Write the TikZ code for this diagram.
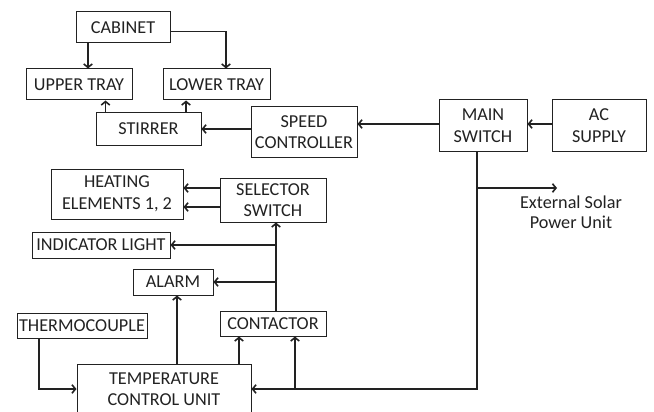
\documentclass[tikz,border=0pt]{standalone}
\usepackage{fontspec}
\setmainfont{Carlito}
\usepackage{tikz}
\usetikzlibrary{arrows.meta,positioning}

\definecolor{ink}{HTML}{222222}

\tikzset{
    block/.style={draw=ink, text=ink, line width=1pt, inner sep=0pt, align=center,
        font=\fontsize{18.2}{21.5}\selectfont},
    link/.style={draw=ink, line width=1.6pt, ->},
    >={Straight Barb[length=3.5pt,width=8.5pt]}
}

\begin{document}
\begin{tikzpicture}[x=1pt, y=-1pt]
    \clip (0,0) rectangle (654,412);
    \fill[white] (0,0) rectangle (654,412);
    % top group
    \node[block, minimum width=94pt, minimum height=31pt] (cabinet) at (123,27.5) {CABINET};
    \node[block, minimum width=106pt, minimum height=31pt] (upper) at (79,84.5) {UPPER TRAY};
    \node[block, minimum width=107pt, minimum height=31pt] (lower) at (216.5,84.5) {LOWER TRAY};
    \node[block, minimum width=105pt, minimum height=32pt] (stirrer) at (148.5,129) {STIRRER};
    \node[block, minimum width=106pt, minimum height=50pt] (speed) at (304,132) {SPEED\\CONTROLLER};
    \node[block, minimum width=88pt, minimum height=51pt] (mainsw) at (483,125.5) {MAIN\\SWITCH};
    \node[block, minimum width=94pt, minimum height=51pt] (acsupply) at (599,125.5) {AC\\SUPPLY};
    % heating group
    \node[block, minimum width=132pt, minimum height=50pt] (heating) at (117,194) {HEATING\\ELEMENTS 1, 2};
    \node[block, minimum width=106pt, minimum height=44pt] (selector) at (273,200) {SELECTOR\\SWITCH};
    \node[block, minimum width=138pt, minimum height=26pt] (indicator) at (101,245) {INDICATOR LIGHT};
    \node[block, minimum width=80pt, minimum height=26pt] (alarm) at (173,282) {ALARM};
    \node[block, minimum width=130pt, minimum height=25pt] (thermo) at (82,325.5) {THERMOCOUPLE};
    \node[block, minimum width=106pt, minimum height=25pt] (contactor) at (273,323.5) {CONTACTOR};
    \node[block, minimum width=174pt, minimum height=50pt] (tcu) at (164,389) {TEMPERATURE\\CONTROL UNIT};
    \node[align=center, text=ink, font=\fontsize{18.2}{19.5}\selectfont] (solar) at (571,212) {External Solar\\Power Unit};

    \coordinate (bus) at ([xshift=3pt]contactor.north);
    \coordinate (feed) at ([xshift=-6pt]mainsw.south);
    \coordinate (tap) at (feed |- 0,188);
    \coordinate (solarend) at (557,188);

    % connectors
    \draw[link] ([xshift=-35pt]cabinet.south) -- ([xshift=-35pt]cabinet.south |- upper.north);
    \draw[link] ([yshift=-4pt]cabinet.east) -| ([xshift=9.5pt]lower.north);
    \draw[link] ([xshift=-43pt]stirrer.north) -- ([xshift=-43pt]stirrer.north |- upper.south);
    \draw[link] ([xshift=37.5pt]stirrer.north) -- ([xshift=37.5pt]stirrer.north |- lower.south);
    \draw[link] (speed.west |- stirrer.east) -- (stirrer.east);
    \draw[link] ([yshift=1.5pt]mainsw.west) -- ([yshift=1.5pt]mainsw.west -| speed.east);
    \draw[link] ([yshift=1.5pt]acsupply.west) -- ([yshift=1.5pt]mainsw.east);
    \draw[link] (tap) -- (solarend);
    \draw[link] (feed) |- (tcu.east);
    \draw[link] (tcu.east -| 295,0) -- (contactor.south -| 295,0);
    \draw[link] ([xshift=-43pt]thermo.south) |- (tcu.west);
    \draw[link] ([xshift=13pt]tcu.north) -- ([xshift=13pt]tcu.north |- alarm.south);
    \draw[link] ([xshift=75pt]tcu.north) -- ([xshift=75pt]tcu.north |- contactor.south);
    \draw[link] (bus) -- (bus |- selector.south);
    \draw[link] (bus |- indicator.east) -- (indicator.east);
    \draw[link] (bus |- alarm.east) -- (alarm.east);
    \draw[link] ([yshift=12pt]selector.west) -- ([yshift=12pt]selector.west -| heating.east);
    \draw[link] ([yshift=-7pt]selector.west) -- ([yshift=-7pt]selector.west -| heating.east);
\end{tikzpicture}
\end{document}
